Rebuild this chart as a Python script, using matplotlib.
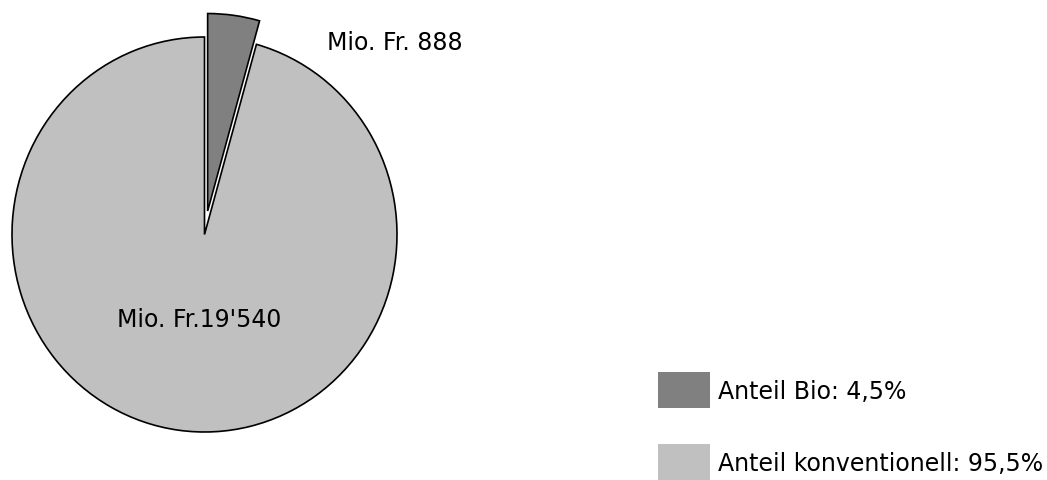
import matplotlib.pyplot as plt
from matplotlib.patches import Rectangle

# Daten
categories = ['Anteil Bio', 'Anteil konventionell']
values = [888, 19540]
shares = ['4,5%', '95,5%']
slice_labels = ['Mio. Fr. 888', "Mio. Fr.19'540"]
colors = ['#808080', '#c0c0c0']

W, H = 1047, 480
fig = plt.figure(figsize=(W / 100, H / 100), dpi=100)

# Kreis: Mitte ca. (204.5, 234.5) px, Radien ca. 192.5 x 197.5 px
cx, cy, rx, ry = 204.5, 234.5, 192.5, 197.5
ax = fig.add_axes([(cx - rx) / W, (H - cy - ry) / H, 2 * rx / W, 2 * ry / H])
wedges, _ = ax.pie(values, colors=colors, startangle=90, counterclock=False,
                   explode=[0.12, 0], radius=1,
                   wedgeprops=dict(edgecolor='black', linewidth=1.2))
for w in wedges:
    w.set_clip_on(False)
ax.set_aspect('auto')
ax.set_xlim(-1, 1)
ax.set_ylim(-1, 1)
ax.axis('off')

font = 'DejaVu Sans'
fs = 17
fig.text(327 / W, 1 - 43 / H, slice_labels[0], fontsize=fs, family=font,
         ha='left', va='center')
fig.text(117 / W, 1 - 320 / H, slice_labels[1], fontsize=fs, family=font,
         ha='left', va='center')

# Legende
leg_y = [390, 462]
for cat, share, col, y in zip(categories, shares, colors, leg_y):
    fig.patches.append(Rectangle((658 / W, 1 - (y + 18) / H), 52 / W, 36 / H,
                                 transform=fig.transFigure, facecolor=col,
                                 edgecolor='none'))
    fig.text(718 / W, 1 - (y + 2) / H, f'{cat}: {share}', fontsize=fs,
             family=font, ha='left', va='center')

fig.savefig('out.png', dpi=100)
